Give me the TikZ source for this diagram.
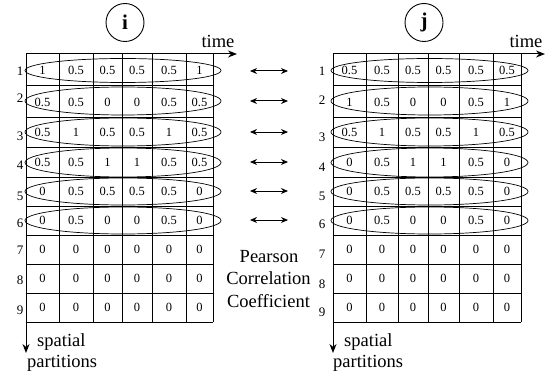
\documentclass[tikz,border=0pt]{standalone}
\usepackage{fontspec}
\setmainfont{Liberation Serif}
\usetikzlibrary{arrows.meta,shapes.geometric}
\begin{document}
\begin{tikzpicture}[x=1pt,y=-1pt,
  gridline/.style={line width=1pt},
  rowband/.style={draw, ellipse, line width=0.7pt, inner sep=0, minimum width=196pt},
  cell/.style={font=\fontsize{12.5}{14}\selectfont, inner sep=0},
  rowlab/.style={font=\fontsize{13}{15}\selectfont, inner sep=0},
  caption/.style={font=\fontsize{18.5}{22}\selectfont, inner sep=0, anchor=base},
  pair/.style={{Stealth[length=7pt,width=6pt]}-{Stealth[length=7pt,width=6pt]}, line width=1pt},
  axis/.style={-{Stealth[length=9pt,width=7pt]}, line width=1pt},
  badge/.style={draw, circle, minimum size=38pt, inner sep=0, line width=0.9pt,
    font=\fontsize{21}{24}\selectfont\bfseries}
]
\useasboundingbox (0,0) rectangle (551,377);

% ---- badges ----
\node[badge] (bi) at (125,22.5) {i};
\node[badge] (bj) at (424,22.5) {j};

% ---- grid lines (left matrix i) ----
\foreach \x in {26,59,93,122,152,186,213}
  \draw[gridline] (\x,54) -- (\x,322);
\foreach \y in {54,86,118,147,177,206,235,264,293,322}
  \draw[gridline] (26,\y) -- (213,\y);

% ---- grid lines (right matrix j) ----
\foreach \x in {333,366,398,428,459,493,521}
  \draw[gridline] (\x,54) -- (\x,322);
\foreach \y in {54,86,118,147,177,206,235,264,293,322}
  \draw[gridline] (333,\y) -- (521,\y);

% ---- cell values, matrix i ----
\foreach [count=\r] \vals in {
  {1,0.5,0.5,0.5,0.5,1},
  {0.5,0.5,0,0,0.5,0.5},
  {0.5,1,0.5,0.5,1,0.5},
  {0.5,0.5,1,1,0.5,0.5},
  {0,0.5,0.5,0.5,0.5,0},
  {0,0.5,0,0,0.5,0},
  {0,0,0,0,0,0},
  {0,0,0,0,0,0},
  {0,0,0,0,0,0}} {
  \pgfmathsetmacro\cy{{70,102,132.5,162,191.5,220.5,249.5,278.5,307.5}[\r-1]}
  \foreach [count=\c] \v in \vals {
    \pgfmathsetmacro\cx{{42.5,76,107.5,137,169,199.5}[\c-1]}
    \node[cell] (i-\r-\c) at (\cx,\cy) {\v};
  }
}

% ---- cell values, matrix j ----
\foreach [count=\r] \vals in {
  {0.5,0.5,0.5,0.5,0.5,0.5},
  {1,0.5,0,0,0.5,1},
  {0.5,1,0.5,0.5,1,0.5},
  {0,0.5,1,1,0.5,0},
  {0,0.5,0.5,0.5,0.5,0},
  {0,0.5,0,0,0.5,0},
  {0,0,0,0,0,0},
  {0,0,0,0,0,0},
  {0,0,0,0,0,0}} {
  \pgfmathsetmacro\cy{{70,102,132.5,162,191.5,220.5,249.5,278.5,307.5}[\r-1]}
  \foreach [count=\c] \v in \vals {
    \pgfmathsetmacro\cx{{349.5,382,413,443.5,476,507}[\c-1]}
    \node[cell] (j-\r-\c) at (\cx,\cy) {\v};
  }
}

% ---- row labels ----
\foreach [count=\r] \yy in {71,98,136,165,196,223,250,280,310}
  \node[rowlab] (li\r) at (20,\yy) {\r};
\foreach [count=\r] \yy in {71,100,137,167,196,224,254,284,312}
  \node[rowlab] (lj\r) at (322,\yy) {\r};

% ---- row ellipses and correlation arrows ----
\foreach [count=\r] \yy/\hh/\ay in {70.5/24/71, 101/28/101, 132/28/132, 162.5/29/162, 191.5/27/191, 220.5/27/220} {
  \node[rowband, minimum height=\hh pt] (ei\r) at (123,\yy) {};
  \node[rowband, minimum height=\hh pt, minimum width=197pt] (ej\r) at (429.5,\yy) {};
  \coordinate (pl\r) at (250,\ay);
  \coordinate (pr\r) at (288,\ay);
  \draw[pair] (pl\r) -- (pr\r);
}

% ---- axes ----
\coordinate (oi) at (26,54);
\coordinate (ti) at (237,54);
\coordinate (si) at (26,353);
\draw[axis] (oi) -- (ti);
\draw[axis] (oi) -- (si);
\coordinate (oj) at (333,54);
\coordinate (tj) at (545,54);
\coordinate (sj) at (333,353);
\draw[axis] (oj) -- (tj);
\draw[axis] (oj) -- (sj);

% ---- axis captions ----
\node[caption] (timei) at (218,48) {time};
\node[caption] (timej) at (526,48) {time};
\node[caption, anchor=base west] (spi) at (37,346) {spatial};
\node[caption, anchor=base west] (pai) at (27,367) {partitions};
\node[caption, anchor=base west] (spj) at (344,346) {spatial};
\node[caption, anchor=base west] (paj) at (333,367) {partitions};

% ---- middle caption ----
\node[caption] (pcc1) at (269,262) {Pearson};
\node[caption] (pcc2) at (268.5,284.5) {Correlation};
\node[caption] (pcc3) at (268.5,307) {Coefficient};
\end{tikzpicture}
\end{document}
